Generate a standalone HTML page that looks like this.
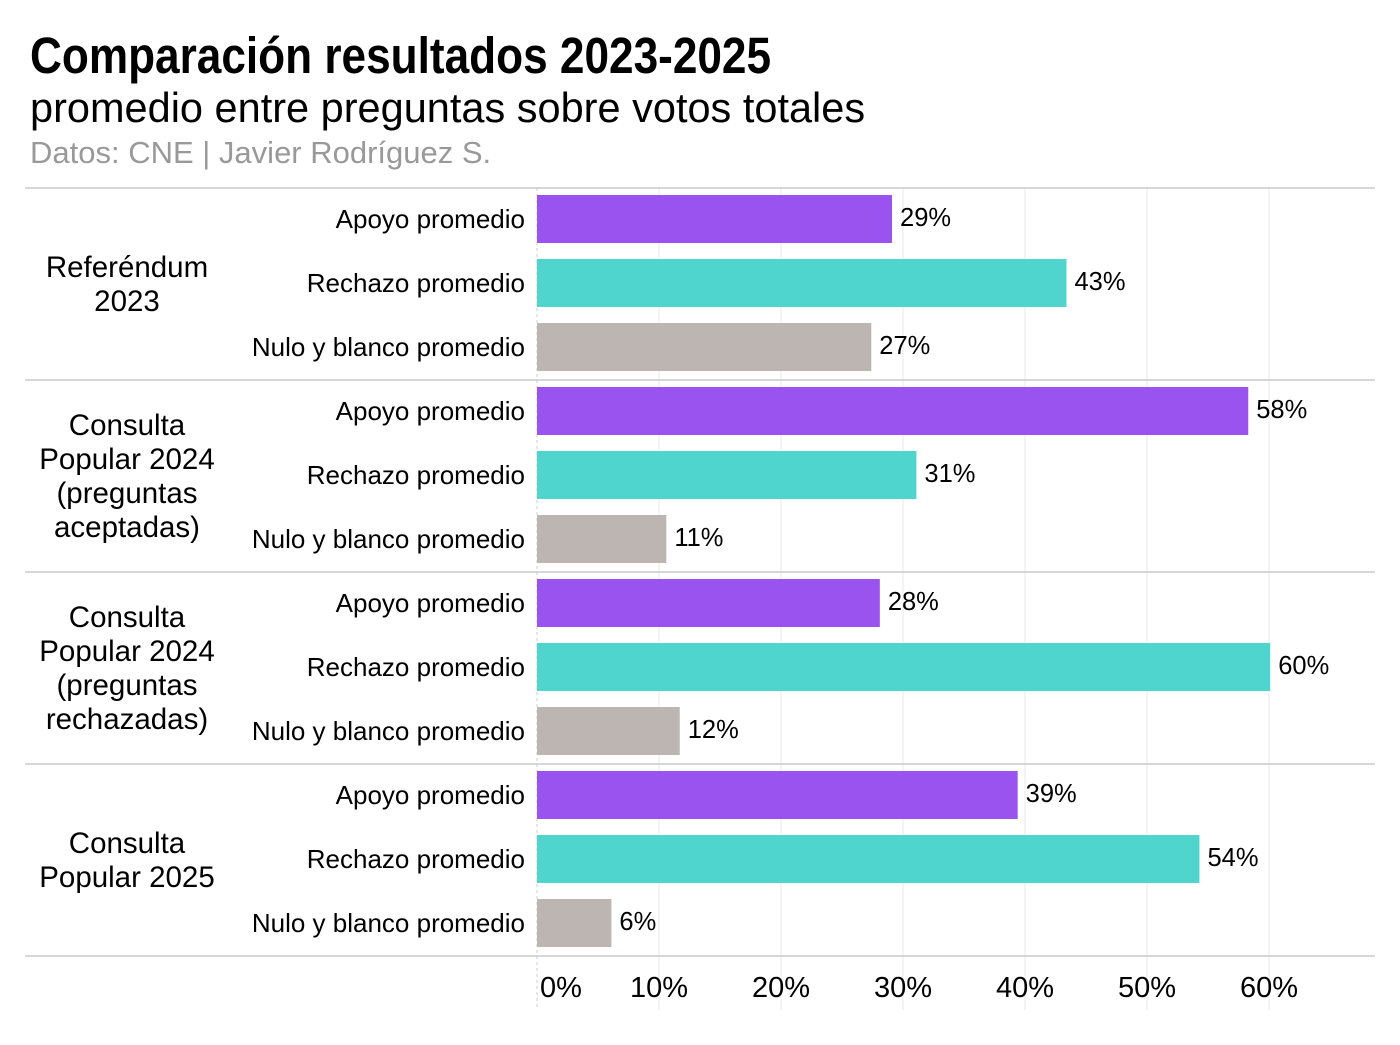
<!DOCTYPE html>
<html><head><meta charset="utf-8"><style>
body{margin:0;background:#fff;font-family:"Liberation Sans",sans-serif;}
svg text{font-family:"Liberation Sans",sans-serif;}
</style></head><body>
<svg id="chart" width="1400" height="1040" xmlns="http://www.w3.org/2000/svg">
<text x="30" y="73" font-size="51" font-weight="bold" transform="translate(30,0) scale(0.866,1) translate(-30,0)" fill="#000">Comparación resultados 2023-2025</text>
<text x="30" y="122" font-size="41.5" fill="#000">promedio entre preguntas sobre votos totales</text>
<text x="30" y="163" font-size="31" fill="#999">Datos: CNE | Javier Rodríguez S.</text>
<g id="grid"></g><g id="bars"></g><g id="labels"></g>
</svg>
<script>
const groups=["Referéndum\n2023","Consulta\nPopular 2024\n(preguntas\naceptadas)","Consulta\nPopular 2024\n(preguntas\nrechazadas)","Consulta\nPopular 2025"];
const categories=["Apoyo promedio","Rechazo promedio","Nulo y blanco promedio"];
const apoyo=[29.1,58.3,28.1,39.4];
const rechazo=[43.4,31.1,60.1,54.3];
const nulo=[27.4,10.6,11.7,6.1];
const ticks=[0,10,20,30,40,50,60];
const tickLabels=["0%","10%","20%","30%","40%","50%","60%"];
const colors=["#9b53f0","#4fd5cd","#bdb5b2"];
const NS="http://www.w3.org/2000/svg";
const x=v=>537+v*12.2;
const groupTop=g=>188+g*192;
const rowY=(g,r)=>groupTop(g)+31+r*64;
function mk(tag,attrs,parent,txt){const e=document.createElementNS(NS,tag);for(const k in attrs)e.setAttribute(k,attrs[k]);if(txt!=null)e.textContent=txt;document.getElementById(parent).appendChild(e);return e;}
ticks.forEach((t,i)=>{
  if(i>0){const l=mk("line",{x1:x(t),x2:x(t),y1:188,y2:1010,stroke:"#e8e8e8","stroke-width":1},"grid");
  
  }
  const lt=mk("text",{x:i===0?x(t)+24:x(t),y:997,"font-size":29,"text-anchor":"middle",fill:"#000"},"labels",tickLabels[i]);
  
  
});
const z=mk("line",{x1:537,x2:537,y1:188,y2:1010,stroke:"#ccc","stroke-dasharray":"3,3"},"grid");


for(let g=0;g<=4;g++){const s=mk("line",{x1:25,x2:1375,y1:groupTop(g),y2:groupTop(g),stroke:"#c8c8c8","stroke-width":1.5},"grid");

}
const series=[apoyo,rechazo,nulo];
groups.forEach((gname,g)=>{
  const lines=gname.split("\n");const cy=groupTop(g)+96;
  lines.forEach((ln,i)=>{const t=mk("text",{x:127,y:cy+(i-(lines.length-1)/2)*34+10,"font-size":29.5,"text-anchor":"middle",fill:"#000"},"labels",ln);
  
  });
  series.forEach((arr,r)=>{
    const y=rowY(g,r);const v=arr[g];
    const b=mk("rect",{x:537,y:y-24,width:x(v)-537,height:48,fill:colors[r]},"bars");
    
    
    const c=mk("text",{x:525,y:y+9,"font-size":26,"text-anchor":"end",fill:"#000"},"labels",categories[r]);
    
    
    const vl=mk("text",{x:x(v)+8,y:y+7,"font-size":25.5,fill:"#000"},"labels",Math.round(v)+"%");
    
    
  });
});
</script>
</body></html>
